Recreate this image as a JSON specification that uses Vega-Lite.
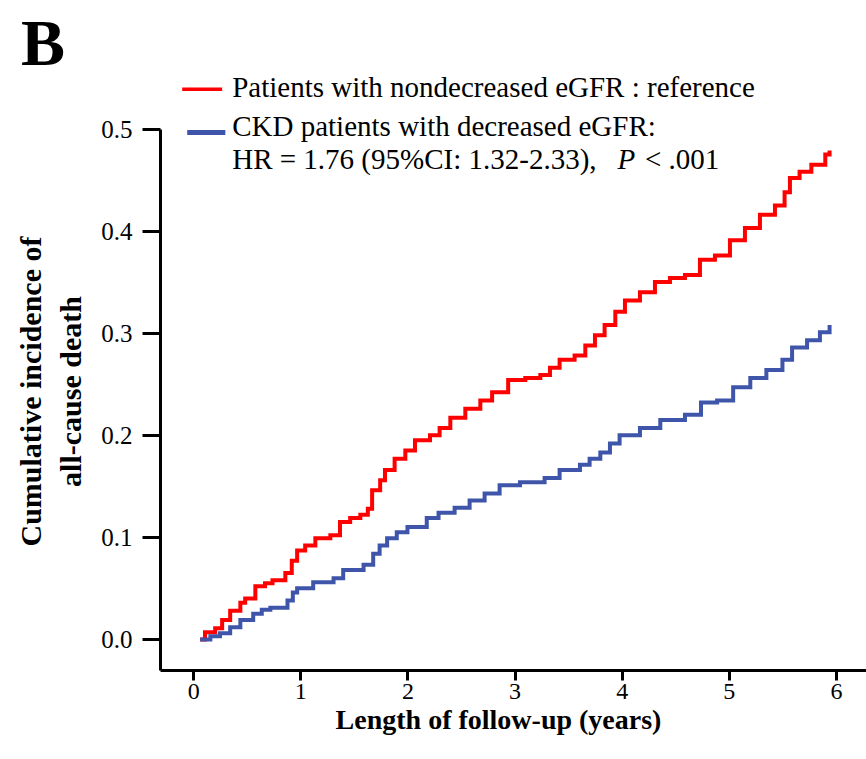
{
  "$schema": "https://vega.github.io/schema/vega-lite/v6.json",
  "autosize": "none",
  "width": 706,
  "height": 541,
  "padding": {"left": 160, "top": 129, "right": 0, "bottom": 89},
  "background": "white",
  "config": {"view": {"stroke": null}, "font": "Liberation Serif"},
  "title": {"text": "B", "anchor": "start", "frame": "group", "font": "Liberation Serif", "fontSize": 66, "fontWeight": "bold", "color": "black", "dx": -139, "dy": 57, "baseline": "alphabetic", "offset": 0},
  "datasets": {
    "one": [{}],
    "curves": [
      {"t": 0.065, "v": 0.0, "g": "ref"},
      {"t": 0.11, "v": 0.007, "g": "ref"},
      {"t": 0.205, "v": 0.011, "g": "ref"},
      {"t": 0.27, "v": 0.019, "g": "ref"},
      {"t": 0.345, "v": 0.028, "g": "ref"},
      {"t": 0.44, "v": 0.036, "g": "ref"},
      {"t": 0.485, "v": 0.04, "g": "ref"},
      {"t": 0.58, "v": 0.052, "g": "ref"},
      {"t": 0.67, "v": 0.055, "g": "ref"},
      {"t": 0.74, "v": 0.058, "g": "ref"},
      {"t": 0.86, "v": 0.065, "g": "ref"},
      {"t": 0.92, "v": 0.077, "g": "ref"},
      {"t": 0.97, "v": 0.087, "g": "ref"},
      {"t": 1.045, "v": 0.092, "g": "ref"},
      {"t": 1.14, "v": 0.099, "g": "ref"},
      {"t": 1.28, "v": 0.102, "g": "ref"},
      {"t": 1.37, "v": 0.115, "g": "ref"},
      {"t": 1.465, "v": 0.119, "g": "ref"},
      {"t": 1.56, "v": 0.122, "g": "ref"},
      {"t": 1.63, "v": 0.128, "g": "ref"},
      {"t": 1.67, "v": 0.146, "g": "ref"},
      {"t": 1.745, "v": 0.156, "g": "ref"},
      {"t": 1.79, "v": 0.166, "g": "ref"},
      {"t": 1.88, "v": 0.177, "g": "ref"},
      {"t": 1.98, "v": 0.185, "g": "ref"},
      {"t": 2.07, "v": 0.195, "g": "ref"},
      {"t": 2.21, "v": 0.2, "g": "ref"},
      {"t": 2.3, "v": 0.207, "g": "ref"},
      {"t": 2.4, "v": 0.217, "g": "ref"},
      {"t": 2.54, "v": 0.226, "g": "ref"},
      {"t": 2.68, "v": 0.234, "g": "ref"},
      {"t": 2.79, "v": 0.242, "g": "ref"},
      {"t": 2.94, "v": 0.254, "g": "ref"},
      {"t": 3.1, "v": 0.256, "g": "ref"},
      {"t": 3.24, "v": 0.259, "g": "ref"},
      {"t": 3.33, "v": 0.266, "g": "ref"},
      {"t": 3.42, "v": 0.274, "g": "ref"},
      {"t": 3.56, "v": 0.278, "g": "ref"},
      {"t": 3.66, "v": 0.288, "g": "ref"},
      {"t": 3.75, "v": 0.298, "g": "ref"},
      {"t": 3.84, "v": 0.308, "g": "ref"},
      {"t": 3.94, "v": 0.321, "g": "ref"},
      {"t": 4.03, "v": 0.332, "g": "ref"},
      {"t": 4.17, "v": 0.34, "g": "ref"},
      {"t": 4.31, "v": 0.35, "g": "ref"},
      {"t": 4.45, "v": 0.354, "g": "ref"},
      {"t": 4.59, "v": 0.357, "g": "ref"},
      {"t": 4.73, "v": 0.372, "g": "ref"},
      {"t": 4.87, "v": 0.376, "g": "ref"},
      {"t": 5.01, "v": 0.391, "g": "ref"},
      {"t": 5.15, "v": 0.403, "g": "ref"},
      {"t": 5.29, "v": 0.416, "g": "ref"},
      {"t": 5.43, "v": 0.425, "g": "ref"},
      {"t": 5.52, "v": 0.438, "g": "ref"},
      {"t": 5.57, "v": 0.452, "g": "ref"},
      {"t": 5.66, "v": 0.458, "g": "ref"},
      {"t": 5.77, "v": 0.465, "g": "ref"},
      {"t": 5.9, "v": 0.475, "g": "ref"},
      {"t": 5.94, "v": 0.479, "g": "ref"},
      {"t": 0.065, "v": 0.0, "g": "ckd"},
      {"t": 0.16, "v": 0.003, "g": "ckd"},
      {"t": 0.25, "v": 0.006, "g": "ckd"},
      {"t": 0.345, "v": 0.012, "g": "ckd"},
      {"t": 0.44, "v": 0.019, "g": "ckd"},
      {"t": 0.56, "v": 0.025, "g": "ckd"},
      {"t": 0.64, "v": 0.029, "g": "ckd"},
      {"t": 0.72, "v": 0.031, "g": "ckd"},
      {"t": 0.88, "v": 0.038, "g": "ckd"},
      {"t": 0.93, "v": 0.046, "g": "ckd"},
      {"t": 0.97, "v": 0.05, "g": "ckd"},
      {"t": 1.12, "v": 0.056, "g": "ckd"},
      {"t": 1.31, "v": 0.06, "g": "ckd"},
      {"t": 1.4, "v": 0.068, "g": "ckd"},
      {"t": 1.59, "v": 0.073, "g": "ckd"},
      {"t": 1.68, "v": 0.084, "g": "ckd"},
      {"t": 1.74, "v": 0.092, "g": "ckd"},
      {"t": 1.81, "v": 0.099, "g": "ckd"},
      {"t": 1.9, "v": 0.105, "g": "ckd"},
      {"t": 2.0, "v": 0.11, "g": "ckd"},
      {"t": 2.18, "v": 0.119, "g": "ckd"},
      {"t": 2.29, "v": 0.124, "g": "ckd"},
      {"t": 2.44, "v": 0.129, "g": "ckd"},
      {"t": 2.58, "v": 0.136, "g": "ckd"},
      {"t": 2.72, "v": 0.143, "g": "ckd"},
      {"t": 2.86, "v": 0.151, "g": "ckd"},
      {"t": 3.05, "v": 0.154, "g": "ckd"},
      {"t": 3.28, "v": 0.158, "g": "ckd"},
      {"t": 3.42, "v": 0.166, "g": "ckd"},
      {"t": 3.61, "v": 0.171, "g": "ckd"},
      {"t": 3.7, "v": 0.177, "g": "ckd"},
      {"t": 3.8, "v": 0.183, "g": "ckd"},
      {"t": 3.89, "v": 0.192, "g": "ckd"},
      {"t": 3.98, "v": 0.2, "g": "ckd"},
      {"t": 4.17, "v": 0.207, "g": "ckd"},
      {"t": 4.36, "v": 0.215, "g": "ckd"},
      {"t": 4.59, "v": 0.22, "g": "ckd"},
      {"t": 4.74, "v": 0.232, "g": "ckd"},
      {"t": 4.89, "v": 0.234, "g": "ckd"},
      {"t": 5.04, "v": 0.247, "g": "ckd"},
      {"t": 5.2, "v": 0.256, "g": "ckd"},
      {"t": 5.35, "v": 0.264, "g": "ckd"},
      {"t": 5.5, "v": 0.274, "g": "ckd"},
      {"t": 5.59, "v": 0.286, "g": "ckd"},
      {"t": 5.73, "v": 0.293, "g": "ckd"},
      {"t": 5.85, "v": 0.301, "g": "ckd"},
      {"t": 5.94, "v": 0.308, "g": "ckd"}
    ]
  },
  "layer": [
    {
      "data": {"name": "curves"},
      "mark": {"type": "line", "interpolate": "step-after", "strokeWidth": 4, "clip": false},
      "encoding": {
        "x": {
          "field": "t", "type": "quantitative",
          "scale": {"domain": [-0.31, 6.28], "nice": false, "zero": false},
          "axis": {
            "values": [0, 1, 2, 3, 4, 5, 6], "format": "d", "grid": false,
            "domainColor": "black", "domainWidth": 3, "tickColor": "black", "tickWidth": 3, "tickSize": 10,
            "labelFont": "Liberation Serif", "labelFontSize": 24, "labelColor": "black", "labelPadding": -1,
            "title": "Length of follow-up (years)", "titleFont": "Liberation Serif", "titleFontSize": 28, "titleFontWeight": "bold", "titleColor": "black",
            "titleX": 338, "titleY": 58, "titleBaseline": "alphabetic", "titleAlign": "center"
          }
        },
        "y": {
          "field": "v", "type": "quantitative",
          "scale": {"domain": [-0.03, 0.5], "nice": false, "zero": false},
          "axis": {
            "values": [0, 0.1, 0.2, 0.3, 0.4, 0.5], "format": ".1f", "grid": false,
            "domainColor": "black", "domainWidth": 3, "tickColor": "black", "tickWidth": 3, "tickSize": 18,
            "labelFont": "Liberation Serif", "labelFontSize": 25, "labelColor": "black", "labelPadding": 10,
            "title": ["Cumulative incidence of", "all-cause death"], "titleFont": "Liberation Serif", "titleFontSize": 30, "titleFontWeight": "bold", "titleColor": "black",
            "titleLineHeight": 40, "titleX": -114, "titleY": 262, "titleBaseline": "bottom", "titleAngle": -90, "titleAlign": "center"
          }
        },
        "color": {
          "field": "g", "type": "nominal",
          "scale": {"domain": ["ref", "ckd"], "range": ["#ff0000", "#3f55a9"]},
          "legend": null
        },
        "detail": {"field": "g"}
      }
    },
    {
      "data": {"name": "one"},
      "mark": {"type": "rule", "color": "#ff0000", "strokeWidth": 3.5, "clip": false},
      "encoding": {"x": {"datum": -0.103}, "x2": {"datum": 0.27}, "y": {"datum": 0.539}}
    },
    {
      "data": {"name": "one"},
      "mark": {"type": "rule", "color": "#3f55a9", "strokeWidth": 5, "clip": false},
      "encoding": {"x": {"datum": -0.056}, "x2": {"datum": 0.3}, "y": {"datum": 0.4966}}
    },
    {
      "data": {"name": "one"},
      "mark": {"type": "text", "text": "Patients with nondecreased eGFR : reference", "font": "Liberation Serif", "fontSize": 29, "align": "left", "baseline": "alphabetic", "color": "black", "clip": false},
      "encoding": {"x": {"datum": 0.364}, "y": {"datum": 0.5314}}
    },
    {
      "data": {"name": "one"},
      "mark": {"type": "text", "text": "CKD patients with decreased eGFR:", "font": "Liberation Serif", "fontSize": 29, "align": "left", "baseline": "alphabetic", "color": "black", "clip": false},
      "encoding": {"x": {"datum": 0.364}, "y": {"datum": 0.4931}}
    },
    {
      "data": {"name": "one"},
      "mark": {"type": "text", "text": "HR = 1.76 (95%CI: 1.32-2.33),", "font": "Liberation Serif", "fontSize": 29, "align": "left", "baseline": "alphabetic", "color": "black", "clip": false},
      "encoding": {"x": {"datum": 0.364}, "y": {"datum": 0.4608}}
    },
    {
      "data": {"name": "one"},
      "mark": {"type": "text", "text": "P", "font": "Liberation Serif", "fontSize": 29, "fontStyle": "italic", "align": "left", "baseline": "alphabetic", "color": "black", "clip": false},
      "encoding": {"x": {"datum": 3.96}, "y": {"datum": 0.4608}}
    },
    {
      "data": {"name": "one"},
      "mark": {"type": "text", "text": "< .001", "font": "Liberation Serif", "fontSize": 29, "align": "left", "baseline": "alphabetic", "color": "black", "clip": false},
      "encoding": {"x": {"datum": 4.216}, "y": {"datum": 0.4608}}
    }
  ]
}
